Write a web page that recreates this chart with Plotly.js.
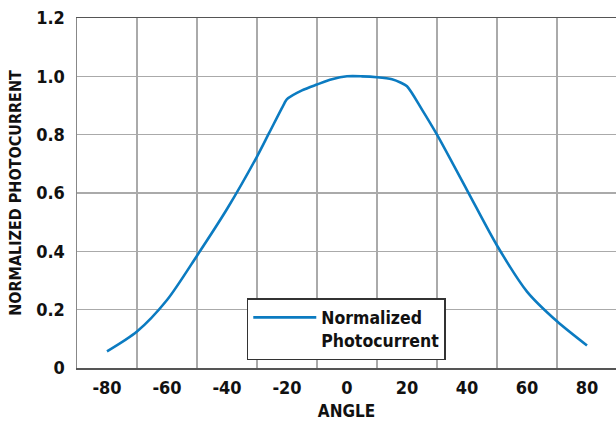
<!DOCTYPE html>
<html>
<head>
<meta charset="utf-8">
<script src="https://cdn.plot.ly/plotly-3.0.1.min.js"></script>
<style>html,body{margin:0;padding:0;background:#fff;}#chart{width:616px;height:429px;}</style>
</head>
<body>
<div id="chart"></div>
<script>
// Data
var angles = [-80, -70, -60, -50, -40, -30, -26, -21, -20, -15, -10, -5, 0, 5, 10, 15, 18, 20, 25, 30, 40, 50, 60, 70, 80];
var photocurrent = [0.057, 0.125, 0.233, 0.385, 0.545, 0.725, 0.805, 0.905, 0.922, 0.952, 0.972, 0.99, 1.0, 1.0, 0.997, 0.99, 0.978, 0.966, 0.886, 0.8, 0.61, 0.42, 0.262, 0.16, 0.077];
var seriesName = 'Normalized<br>Photocurrent';
var xTickVals = [-80, -60, -40, -20, 0, 20, 40, 60, 80];
var xTickText = ['-80', '-60', '-40', '-20', '0', '20', '40', '60', '80'];
var yTickVals = [0, 0.2, 0.4, 0.6, 0.8, 1.0, 1.2];
var yTickText = ['0', '0.2', '0.4', '0.6', '0.8', '1.0', '1.2'];

var FONT = 'DejaVu Sans Condensed, DejaVu Sans, sans-serif';

var trace = {
  x: angles,
  y: photocurrent,
  type: 'scatter',
  mode: 'lines',
  name: seriesName,
  line: {color: '#0b7bc1', width: 2.6, shape: 'spline', smoothing: 0.8}
};

function f(size) { return {family: FONT, size: size, weight: 'bold', stretch: 'condensed', color: '#111111'}; }

var layout = {
  width: 616,
  height: 429,
  margin: {l: 77, r: 0, t: 18, b: 61},
  paper_bgcolor: '#ffffff',
  plot_bgcolor: '#ffffff',
  font: f(18),
  showlegend: true,
  legend: {
    x: 0.315, xanchor: 'left', y: 0.2, yanchor: 'top',
    bgcolor: '#ffffff', bordercolor: '#333333', borderwidth: 1.5,
    font: f(17.5),
    itemwidth: 63,
    valign: 'top'
  },
  xaxis: {
    range: [-90, 89.67],
    tickvals: xTickVals,
    ticktext: xTickText,
    ticks: '',
    showgrid: false,
    zeroline: false,
    showline: true,
    linecolor: '#555555',
    linewidth: 1.5,
    mirror: true,
    ticklabelstandoff: 3,
    tickfont: f(18),
    minor: {tick0: -70, dtick: 20, showgrid: true, gridcolor: '#aaaaaa', gridwidth: 1.5, ticks: ''},
    title: {text: 'ANGLE', font: f(17), standoff: 8},
    automargin: false
  },
  yaxis: {
    range: [0, 1.2],
    tickvals: yTickVals,
    ticktext: yTickText,
    ticks: '',
    showgrid: true,
    gridcolor: '#aaaaaa',
    gridwidth: 1.5,
    zeroline: false,
    showline: true,
    linecolor: '#888888',
    linewidth: 1.5,
    ticklabelstandoff: 7,
    tickfont: f(18),
    title: {text: 'NORMALIZED PHOTOCURRENT', font: f(16), standoff: 10},
    automargin: false
  }
};

Plotly.newPlot('chart', [trace], layout, {displayModeBar: false, staticPlot: true});
</script>
</body>
</html>
